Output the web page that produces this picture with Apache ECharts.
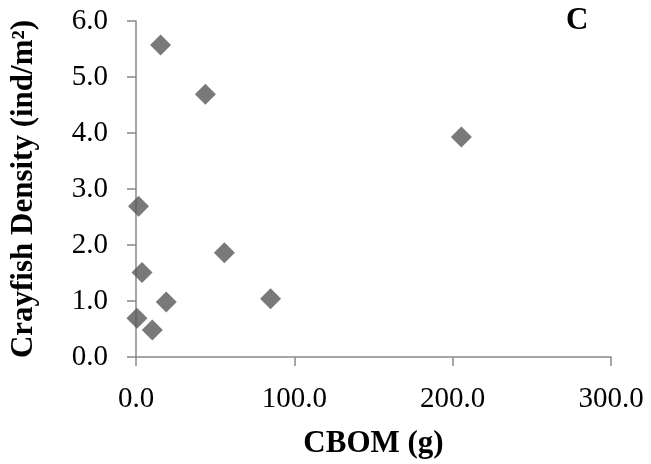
<!DOCTYPE html>
<html><head><meta charset="utf-8">
<script src="https://cdn.jsdelivr.net/npm/echarts@6/dist/echarts.min.js"></script>
<style>html,body{margin:0;padding:0;background:#fff}#c{width:651px;height:464px}</style>
</head><body><div id="c"></div>
<script>
const cbom = [15.5, 43.8, 205.5, 1.6, 55.8, 3.8, 85.0, 19.1, 0.6, 10.3];
const density = [5.57, 4.69, 3.93, 2.69, 1.86, 1.51, 1.04, 0.98, 0.69, 0.48];
const xTitle = 'CBOM (g)';
const yTitle = 'Crayfish Density (ind/m²)';
const panelLabel = 'C';

const data = cbom.map((x, i) => [x, density[i]]);
const font = '"Liberation Serif", "Times New Roman", serif';
const axisColor = '#898989';

const chart = echarts.init(document.getElementById('c'), null, {renderer: 'canvas'});
chart.setOption({
  animation: false,
  backgroundColor: '#fff',
  grid: {left: 135, right: 40, top: 21, bottom: 101, containLabel: false},
  xAxis: {
    type: 'value', min: 0, max: 300, interval: 100,
    axisLine: {show: true, onZero: false, lineStyle: {color: axisColor, width: 1.5}},
    axisTick: {show: true, inside: false, length: 9, lineStyle: {color: axisColor, width: 1.5}},
    splitLine: {show: false},
    axisLabel: {margin: 28, color: '#000', fontFamily: font, fontSize: 29, formatter: v => v.toFixed(1)},
    name: xTitle, nameLocation: 'middle', nameGap: 71,
    nameTextStyle: {color: '#000', fontFamily: font, fontSize: 31, fontWeight: 'bold'}
  },
  yAxis: {
    type: 'value', min: 0, max: 6, interval: 1,
    axisLine: {show: true, onZero: false, lineStyle: {color: axisColor, width: 1.5}},
    axisTick: {show: true, inside: false, length: 9, lineStyle: {color: axisColor, width: 1.5}},
    splitLine: {show: false},
    axisLabel: {margin: 28, color: '#000', fontFamily: font, fontSize: 29, formatter: v => v.toFixed(1)},
    name: yTitle, nameLocation: 'middle', nameGap: 97, nameRotate: 90,
    nameTextStyle: {color: '#000', fontFamily: font, fontSize: 31, fontWeight: 'bold'}
  },
  graphic: [{
    type: 'text', left: 566, top: 5,
    style: {text: panelLabel, font: 'bold 31px ' + font, fill: '#000'}
  }],
  series: [{
    type: 'scatter', data: data, symbol: 'diamond', symbolSize: 21,
    itemStyle: {color: '#575757'}
  }]
});
</script></body></html>
